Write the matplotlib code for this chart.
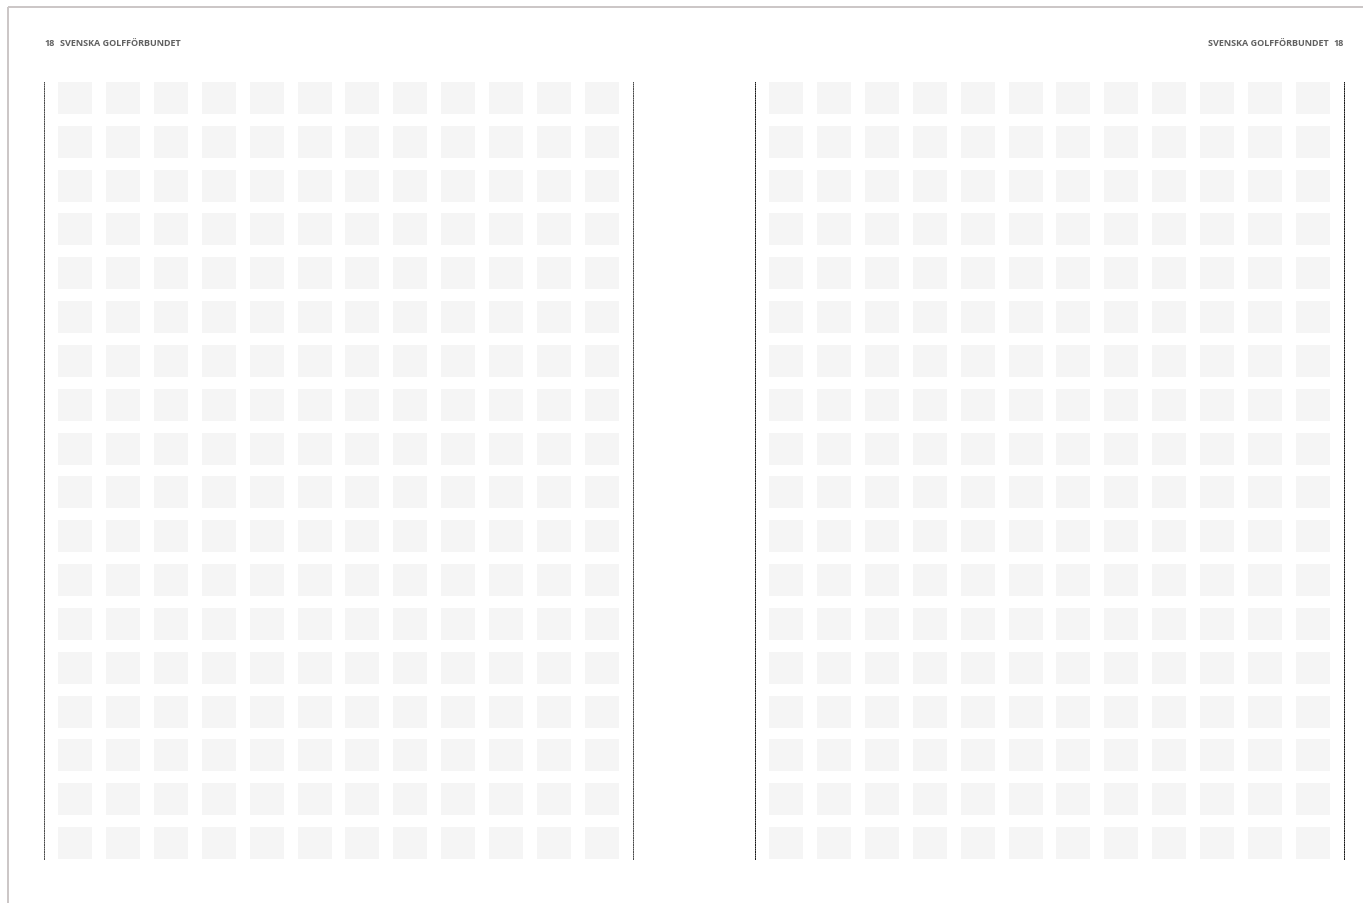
"""Blank spread of placeholder grid cells with running headers."""

import matplotlib

matplotlib.use("Agg")
import matplotlib.pyplot as plt
import numpy as np

W, H = 1363, 904

# content
page_numbers = ["18", "18"]
publisher = "SVENSKA GOLFFÖRBUNDET"
n_rows = 18
n_cols = 12
# every placeholder cell carries the same (empty) value
cell_values = np.ones((n_rows, n_cols))

CELL_W = 0.71
CELL_H = 0.73
CELL_COLOR = "#f5f5f5"


def px_axes(fig, x0, y0, x1, y1):
    return fig.add_axes([x0 / W, 1 - y1 / H, (x1 - x0) / W, (y1 - y0) / H])


def draw_page(fig, x0, x1, line_color):
    ax = px_axes(fig, x0, 83, x1, 860)
    rows, cols = np.nonzero(cell_values)
    ax.bar(cols, CELL_H, width=CELL_W, bottom=rows, align="edge",
           color=CELL_COLOR, linewidth=0)
    ax.set_xlim(-0.29, n_cols - 1 + CELL_W + 0.29)
    ax.set_ylim(n_rows - 1 + CELL_H, 0)
    ax.set_xticks([])
    ax.set_yticks([])
    for side in ("top", "bottom"):
        ax.spines[side].set_visible(False)
    for side in ("left", "right"):
        ax.spines[side].set_linestyle((0, (1, 1.4)))
        ax.spines[side].set_linewidth(0.7)
        ax.spines[side].set_color(line_color)
    ax.patch.set_alpha(0)
    return ax


fig = plt.figure(figsize=(W / 100, H / 100), dpi=100)
fig.patch.set_facecolor("white")

# outer border (top and left)
frame = fig.add_axes([0, 0, 1, 1])
frame.set_xlim(0, W)
frame.set_ylim(H, 0)
frame.axis("off")
frame.plot([8, W], [8, 8], color="#cbc6c6", linewidth=1.4, solid_capstyle="butt")
frame.plot([8, 8], [8, H], color="#cbc6c6", linewidth=1.4, solid_capstyle="butt")

hdr = dict(fontsize=6.5, fontweight="bold", color="#606060",
           family=["Open Sans", "DejaVu Sans"], va="center")
frame.text(44, 43, page_numbers[0], ha="left", **hdr)
frame.text(60, 43, publisher, ha="left", **hdr)
frame.text(1344, 43, page_numbers[1], ha="right", **hdr)
frame.text(1329, 43, publisher, ha="right", **hdr)

draw_page(fig, 44, 633, "#444444")
draw_page(fig, 755, 1344, "#111111")

fig.savefig("out.png", dpi=100)
